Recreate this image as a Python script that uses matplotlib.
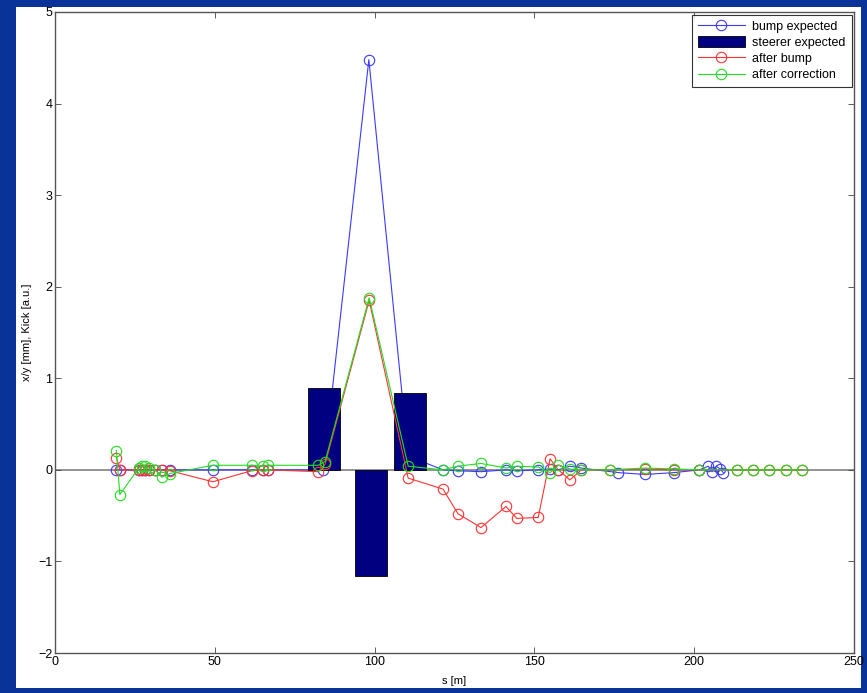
import matplotlib
matplotlib.use("Agg")
import matplotlib.pyplot as plt
from matplotlib.patches import Rectangle

plt.rcParams['font.family'] = ['Liberation Sans', 'DejaVu Sans']

# ---- data ----
s_bump = [19.0, 20.3, 26.2, 27.3, 28.3, 29.3, 31.3, 33.4, 36.0, 49.4, 61.5, 65.2, 66.6,
          84.0, 98.2, 110.5, 121.4, 126.1, 133.3, 141.1, 144.5, 151.2, 154.9, 157.5,
          161.1, 164.7, 176.2, 184.6, 193.7, 201.6, 204.4, 205.6, 206.9, 208.1, 209.1]
bump_expected = [0, 0, 0, 0, 0, 0, 0, 0, 0, 0, 0, 0, 0,
                 0, 4.48, 0.15, 0, -0.01, -0.02, 0, -0.01, 0, 0.01, 0,
                 0.04, 0.02, -0.03, -0.05, -0.03, 0, 0.04, -0.02, 0.04, 0.01, -0.03]

s_bpm = [19.2, 20.3, 26.2, 27.3, 28.3, 29.3, 31.3, 33.4, 36.0, 49.4, 61.5, 65.2, 66.6,
         82.4, 84.5, 98.3, 110.5, 121.4, 126.1, 133.3, 141.1, 144.5, 151.2, 154.9,
         157.5, 161.1, 164.7, 173.8, 184.6, 193.7, 201.6, 213.3, 218.4, 223.4, 228.7, 233.7]
after_bump = [0.13, 0.0, 0.0, 0.0, 0.0, 0.0, 0.0, 0.0, -0.01, -0.13, -0.01, 0.0, 0.0,
              -0.02, 0.06, 1.85, -0.09, -0.21, -0.48, -0.63, -0.40, -0.53, -0.52, 0.12,
              0.0, -0.11, 0.0, 0.0, 0.01, 0.0, 0.0, 0.0, 0.0, 0.0, 0.0, 0.0]
after_correction = [0.21, -0.27, 0.02, 0.04, 0.04, 0.02, 0.0, -0.08, -0.04, 0.05, 0.05, 0.04, 0.05,
                    0.05, 0.09, 1.88, 0.04, 0.0, 0.04, 0.07, 0.02, 0.04, 0.03, -0.03,
                    0.05, 0.01, 0.0, 0.0, 0.02, 0.01, 0.0, 0.0, 0.0, 0.0, 0.0, 0.0]

s_steerer = [84.2, 98.9, 111.0]
steerer_kick = [0.89, -1.16, 0.84]

x_ticks = [0, 50, 100, 150, 200, 250]
y_ticks = [-2, -1, 0, 1, 2, 3, 4, 5]

# ---- figure ----
fig = plt.figure(figsize=(8.67, 6.93), dpi=100, facecolor='#0a3399')
fig.patches.append(Rectangle((16 / 867, 1 - 688 / 693), (861 - 16) / 867, (688 - 7) / 693,
                             transform=fig.transFigure, facecolor='white',
                             edgecolor='none', zorder=-10))
ax = fig.add_axes([55 / 867, 1 - 653 / 693, (854 - 55) / 867, (653 - 12) / 693])
ax.set_zorder(5)
ax.set_facecolor('white')

ax.axhline(0, color='#808080', lw=1.2, zorder=0.5)

h1, = ax.plot(s_bump, bump_expected, '-o', color='#3a3aff', mfc='none', ms=7.5, mew=0.8,
              lw=0.8, label='bump expected', zorder=1)
h2 = ax.bar(s_steerer, steerer_kick, width=10, color='#000080', edgecolor='black', lw=0.6,
            label='steerer expected', zorder=2)
h3, = ax.plot(s_bpm, after_bump, '-o', color='#ff3333', mfc='none', ms=7.5, mew=0.8,
              lw=0.8, label='after bump', zorder=3)
h4, = ax.plot(s_bpm, after_correction, '-o', color='#22dd22', mfc='none', ms=7.5, mew=0.8,
              lw=0.8, label='after correction', zorder=4)

ax.set_xlim(0, 250)
ax.set_ylim(-2, 5)
ax.set_xticks(x_ticks)
ax.set_yticks(y_ticks)
ax.tick_params(direction='in', length=4, width=0.6, top=True, right=True,
               labelsize=9, pad=2, color='#444444')
for sp in ax.spines.values():
    sp.set_color('#555555')
    sp.set_linewidth(1.0)

ax.set_xlabel('s [m]', fontsize=8, labelpad=6)
ax.set_ylabel('x/y [mm], Kick [a.u.]', fontsize=8, labelpad=4)

leg = ax.legend([h1, h2, h3, h4],
                ['bump expected', 'steerer expected', 'after bump', 'after correction'],
                loc='upper right', bbox_to_anchor=(1.0, 1.0), fontsize=9,
                frameon=True, fancybox=False, edgecolor='black', borderaxespad=0.2,
                handlelength=3.8, handleheight=0.9, labelspacing=0.3, borderpad=0.45,
                handletextpad=0.6)
leg.get_frame().set_linewidth(0.8)

fig.savefig('out.png', dpi=100, facecolor=fig.get_facecolor())
